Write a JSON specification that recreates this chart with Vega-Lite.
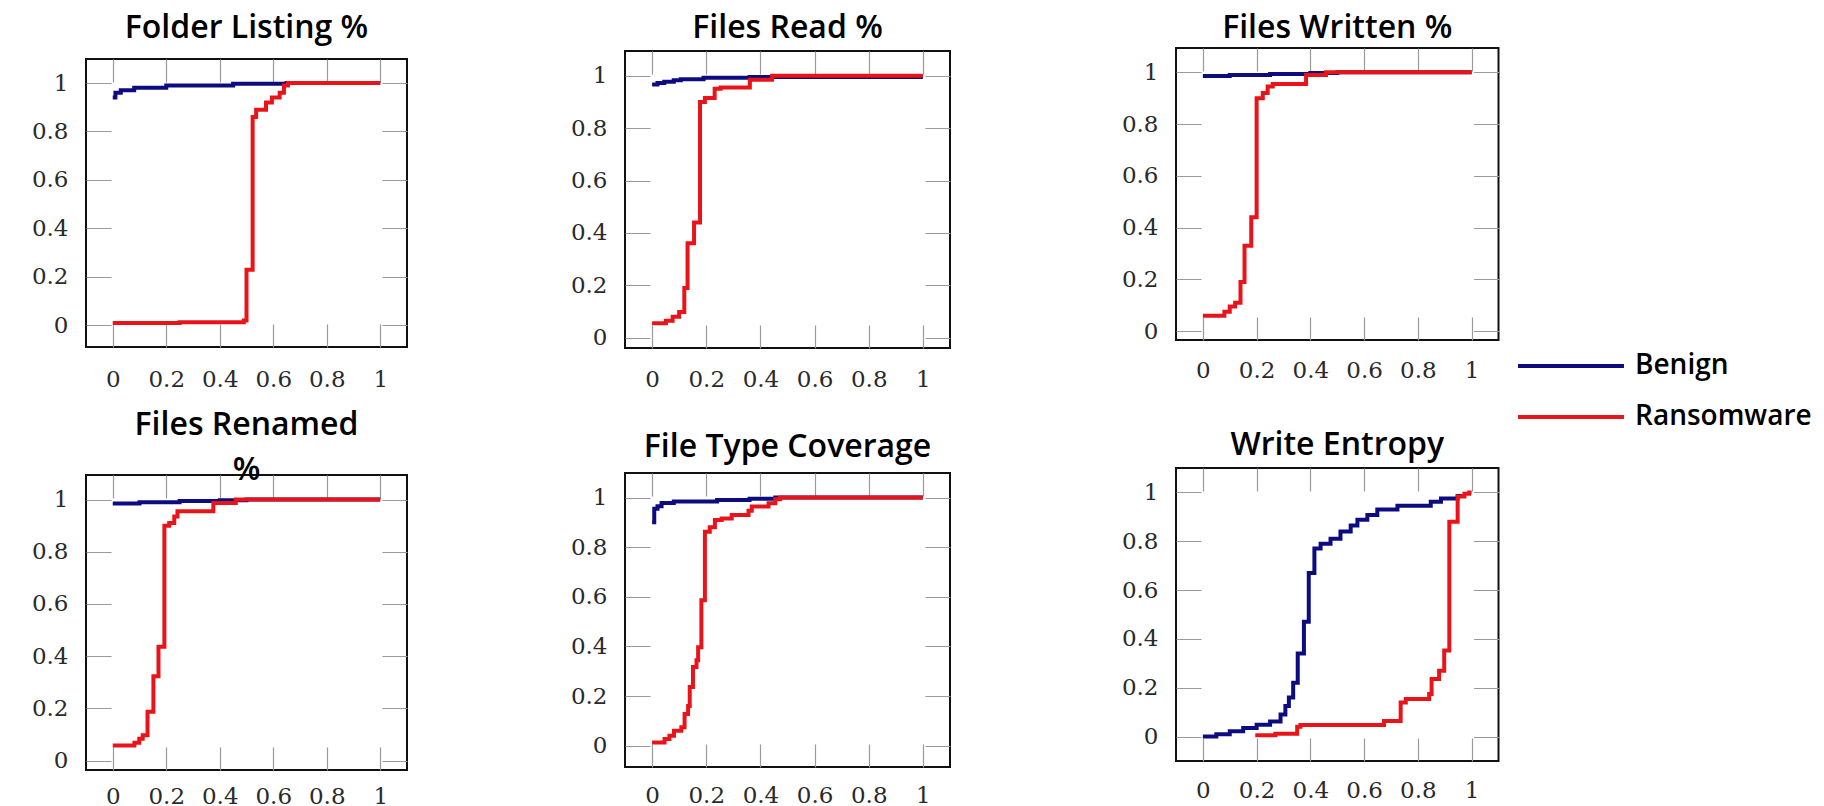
{
  "$schema": "https://vega.github.io/schema/vega-lite/v6.json",
  "background": "white",
  "padding": {"left": 7, "top": 0, "right": 0, "bottom": 0},
  "datasets": {
    "cdf": [
      {"panel": "p1", "series": "Benign", "x": 0, "y": 0.94},
      {"panel": "p1", "series": "Benign", "x": 0.01, "y": 0.96},
      {"panel": "p1", "series": "Benign", "x": 0.03, "y": 0.97},
      {"panel": "p1", "series": "Benign", "x": 0.08, "y": 0.98},
      {"panel": "p1", "series": "Benign", "x": 0.2, "y": 0.99},
      {"panel": "p1", "series": "Benign", "x": 0.45, "y": 0.997},
      {"panel": "p1", "series": "Benign", "x": 0.65, "y": 1},
      {"panel": "p1", "series": "Benign", "x": 1, "y": 1},
      {"panel": "p1", "series": "Ransomware", "x": 0, "y": 0.01},
      {"panel": "p1", "series": "Ransomware", "x": 0.25, "y": 0.013},
      {"panel": "p1", "series": "Ransomware", "x": 0.49, "y": 0.02},
      {"panel": "p1", "series": "Ransomware", "x": 0.5, "y": 0.23},
      {"panel": "p1", "series": "Ransomware", "x": 0.523, "y": 0.86},
      {"panel": "p1", "series": "Ransomware", "x": 0.536, "y": 0.89},
      {"panel": "p1", "series": "Ransomware", "x": 0.573, "y": 0.92},
      {"panel": "p1", "series": "Ransomware", "x": 0.595, "y": 0.94},
      {"panel": "p1", "series": "Ransomware", "x": 0.624, "y": 0.96},
      {"panel": "p1", "series": "Ransomware", "x": 0.64, "y": 0.99},
      {"panel": "p1", "series": "Ransomware", "x": 0.655, "y": 1},
      {"panel": "p1", "series": "Ransomware", "x": 1, "y": 1},

      {"panel": "p2", "series": "Benign", "x": 0, "y": 0.967},
      {"panel": "p2", "series": "Benign", "x": 0.02, "y": 0.972},
      {"panel": "p2", "series": "Benign", "x": 0.045, "y": 0.977},
      {"panel": "p2", "series": "Benign", "x": 0.08, "y": 0.983},
      {"panel": "p2", "series": "Benign", "x": 0.106, "y": 0.987},
      {"panel": "p2", "series": "Benign", "x": 0.19, "y": 0.992},
      {"panel": "p2", "series": "Benign", "x": 0.36, "y": 0.995},
      {"panel": "p2", "series": "Benign", "x": 1, "y": 0.995},
      {"panel": "p2", "series": "Ransomware", "x": 0, "y": 0.055},
      {"panel": "p2", "series": "Ransomware", "x": 0.051, "y": 0.065},
      {"panel": "p2", "series": "Ransomware", "x": 0.076, "y": 0.08},
      {"panel": "p2", "series": "Ransomware", "x": 0.1, "y": 0.098},
      {"panel": "p2", "series": "Ransomware", "x": 0.119, "y": 0.19},
      {"panel": "p2", "series": "Ransomware", "x": 0.131, "y": 0.36},
      {"panel": "p2", "series": "Ransomware", "x": 0.155, "y": 0.44},
      {"panel": "p2", "series": "Ransomware", "x": 0.177, "y": 0.9},
      {"panel": "p2", "series": "Ransomware", "x": 0.195, "y": 0.915},
      {"panel": "p2", "series": "Ransomware", "x": 0.231, "y": 0.95},
      {"panel": "p2", "series": "Ransomware", "x": 0.253, "y": 0.955},
      {"panel": "p2", "series": "Ransomware", "x": 0.361, "y": 0.985},
      {"panel": "p2", "series": "Ransomware", "x": 0.443, "y": 1},
      {"panel": "p2", "series": "Ransomware", "x": 1, "y": 1},

      {"panel": "p3", "series": "Benign", "x": 0, "y": 0.986},
      {"panel": "p3", "series": "Benign", "x": 0.1, "y": 0.99},
      {"panel": "p3", "series": "Benign", "x": 0.25, "y": 0.994},
      {"panel": "p3", "series": "Benign", "x": 0.4, "y": 0.997},
      {"panel": "p3", "series": "Benign", "x": 0.5, "y": 1},
      {"panel": "p3", "series": "Benign", "x": 1, "y": 1},
      {"panel": "p3", "series": "Ransomware", "x": 0, "y": 0.06},
      {"panel": "p3", "series": "Ransomware", "x": 0.08, "y": 0.075},
      {"panel": "p3", "series": "Ransomware", "x": 0.1, "y": 0.095},
      {"panel": "p3", "series": "Ransomware", "x": 0.12, "y": 0.11},
      {"panel": "p3", "series": "Ransomware", "x": 0.14, "y": 0.19},
      {"panel": "p3", "series": "Ransomware", "x": 0.155, "y": 0.33},
      {"panel": "p3", "series": "Ransomware", "x": 0.18, "y": 0.44},
      {"panel": "p3", "series": "Ransomware", "x": 0.2, "y": 0.9},
      {"panel": "p3", "series": "Ransomware", "x": 0.223, "y": 0.92},
      {"panel": "p3", "series": "Ransomware", "x": 0.241, "y": 0.945},
      {"panel": "p3", "series": "Ransomware", "x": 0.26, "y": 0.955},
      {"panel": "p3", "series": "Ransomware", "x": 0.384, "y": 0.99},
      {"panel": "p3", "series": "Ransomware", "x": 0.458, "y": 1},
      {"panel": "p3", "series": "Ransomware", "x": 1, "y": 1},

      {"panel": "p4", "series": "Benign", "x": 0, "y": 0.985},
      {"panel": "p4", "series": "Benign", "x": 0.1, "y": 0.99},
      {"panel": "p4", "series": "Benign", "x": 0.25, "y": 0.994},
      {"panel": "p4", "series": "Benign", "x": 0.4, "y": 0.997},
      {"panel": "p4", "series": "Benign", "x": 0.5, "y": 1},
      {"panel": "p4", "series": "Benign", "x": 1, "y": 1},
      {"panel": "p4", "series": "Ransomware", "x": 0, "y": 0.058},
      {"panel": "p4", "series": "Ransomware", "x": 0.081, "y": 0.068},
      {"panel": "p4", "series": "Ransomware", "x": 0.099, "y": 0.084},
      {"panel": "p4", "series": "Ransomware", "x": 0.112, "y": 0.097},
      {"panel": "p4", "series": "Ransomware", "x": 0.13, "y": 0.187},
      {"panel": "p4", "series": "Ransomware", "x": 0.152, "y": 0.323},
      {"panel": "p4", "series": "Ransomware", "x": 0.171, "y": 0.436},
      {"panel": "p4", "series": "Ransomware", "x": 0.193, "y": 0.9},
      {"panel": "p4", "series": "Ransomware", "x": 0.211, "y": 0.91},
      {"panel": "p4", "series": "Ransomware", "x": 0.23, "y": 0.935},
      {"panel": "p4", "series": "Ransomware", "x": 0.242, "y": 0.955},
      {"panel": "p4", "series": "Ransomware", "x": 0.376, "y": 0.987},
      {"panel": "p4", "series": "Ransomware", "x": 0.46, "y": 1},
      {"panel": "p4", "series": "Ransomware", "x": 1, "y": 1},

      {"panel": "p5", "series": "Benign", "x": 0, "y": 0.9},
      {"panel": "p5", "series": "Benign", "x": 0.008, "y": 0.955},
      {"panel": "p5", "series": "Benign", "x": 0.02, "y": 0.965},
      {"panel": "p5", "series": "Benign", "x": 0.035, "y": 0.978},
      {"panel": "p5", "series": "Benign", "x": 0.08, "y": 0.984},
      {"panel": "p5", "series": "Benign", "x": 0.24, "y": 0.99},
      {"panel": "p5", "series": "Benign", "x": 0.36, "y": 0.995},
      {"panel": "p5", "series": "Benign", "x": 0.455, "y": 1},
      {"panel": "p5", "series": "Benign", "x": 1, "y": 1},
      {"panel": "p5", "series": "Ransomware", "x": 0, "y": 0.013},
      {"panel": "p5", "series": "Ransomware", "x": 0.046, "y": 0.027},
      {"panel": "p5", "series": "Ransomware", "x": 0.064, "y": 0.04},
      {"panel": "p5", "series": "Ransomware", "x": 0.081, "y": 0.06},
      {"panel": "p5", "series": "Ransomware", "x": 0.108, "y": 0.074},
      {"panel": "p5", "series": "Ransomware", "x": 0.12, "y": 0.128},
      {"panel": "p5", "series": "Ransomware", "x": 0.133, "y": 0.16},
      {"panel": "p5", "series": "Ransomware", "x": 0.139, "y": 0.236},
      {"panel": "p5", "series": "Ransomware", "x": 0.151, "y": 0.317},
      {"panel": "p5", "series": "Ransomware", "x": 0.164, "y": 0.344},
      {"panel": "p5", "series": "Ransomware", "x": 0.17, "y": 0.397},
      {"panel": "p5", "series": "Ransomware", "x": 0.182, "y": 0.586},
      {"panel": "p5", "series": "Ransomware", "x": 0.195, "y": 0.862},
      {"panel": "p5", "series": "Ransomware", "x": 0.213, "y": 0.88},
      {"panel": "p5", "series": "Ransomware", "x": 0.232, "y": 0.91},
      {"panel": "p5", "series": "Ransomware", "x": 0.257, "y": 0.916},
      {"panel": "p5", "series": "Ransomware", "x": 0.294, "y": 0.93},
      {"panel": "p5", "series": "Ransomware", "x": 0.356, "y": 0.947},
      {"panel": "p5", "series": "Ransomware", "x": 0.368, "y": 0.964},
      {"panel": "p5", "series": "Ransomware", "x": 0.43, "y": 0.977},
      {"panel": "p5", "series": "Ransomware", "x": 0.455, "y": 0.993},
      {"panel": "p5", "series": "Ransomware", "x": 0.473, "y": 1},
      {"panel": "p5", "series": "Ransomware", "x": 1, "y": 1},

      {"panel": "p6", "series": "Benign", "x": 0, "y": 0},
      {"panel": "p6", "series": "Benign", "x": 0.05, "y": 0.01},
      {"panel": "p6", "series": "Benign", "x": 0.1, "y": 0.022},
      {"panel": "p6", "series": "Benign", "x": 0.15, "y": 0.035},
      {"panel": "p6", "series": "Benign", "x": 0.2, "y": 0.048},
      {"panel": "p6", "series": "Benign", "x": 0.25, "y": 0.062},
      {"panel": "p6", "series": "Benign", "x": 0.289, "y": 0.09},
      {"panel": "p6", "series": "Benign", "x": 0.307, "y": 0.125},
      {"panel": "p6", "series": "Benign", "x": 0.32, "y": 0.16},
      {"panel": "p6", "series": "Benign", "x": 0.336, "y": 0.22},
      {"panel": "p6", "series": "Benign", "x": 0.353, "y": 0.34},
      {"panel": "p6", "series": "Benign", "x": 0.376, "y": 0.47},
      {"panel": "p6", "series": "Benign", "x": 0.394, "y": 0.67},
      {"panel": "p6", "series": "Benign", "x": 0.415, "y": 0.77},
      {"panel": "p6", "series": "Benign", "x": 0.438, "y": 0.79},
      {"panel": "p6", "series": "Benign", "x": 0.475, "y": 0.81},
      {"panel": "p6", "series": "Benign", "x": 0.512, "y": 0.84},
      {"panel": "p6", "series": "Benign", "x": 0.55, "y": 0.865},
      {"panel": "p6", "series": "Benign", "x": 0.575, "y": 0.888},
      {"panel": "p6", "series": "Benign", "x": 0.612, "y": 0.908},
      {"panel": "p6", "series": "Benign", "x": 0.649, "y": 0.93},
      {"panel": "p6", "series": "Benign", "x": 0.724, "y": 0.945},
      {"panel": "p6", "series": "Benign", "x": 0.848, "y": 0.962},
      {"panel": "p6", "series": "Benign", "x": 0.886, "y": 0.975},
      {"panel": "p6", "series": "Benign", "x": 0.948, "y": 0.985},
      {"panel": "p6", "series": "Benign", "x": 0.965, "y": 0.985},
      {"panel": "p6", "series": "Ransomware", "x": 0.195, "y": 0.005},
      {"panel": "p6", "series": "Ransomware", "x": 0.27, "y": 0.012},
      {"panel": "p6", "series": "Ransomware", "x": 0.351, "y": 0.04},
      {"panel": "p6", "series": "Ransomware", "x": 0.363, "y": 0.047},
      {"panel": "p6", "series": "Ransomware", "x": 0.674, "y": 0.064},
      {"panel": "p6", "series": "Ransomware", "x": 0.736, "y": 0.14},
      {"panel": "p6", "series": "Ransomware", "x": 0.755, "y": 0.154},
      {"panel": "p6", "series": "Ransomware", "x": 0.842, "y": 0.174},
      {"panel": "p6", "series": "Ransomware", "x": 0.851, "y": 0.236},
      {"panel": "p6", "series": "Ransomware", "x": 0.879, "y": 0.27},
      {"panel": "p6", "series": "Ransomware", "x": 0.898, "y": 0.353},
      {"panel": "p6", "series": "Ransomware", "x": 0.917, "y": 0.88},
      {"panel": "p6", "series": "Ransomware", "x": 0.948, "y": 0.983},
      {"panel": "p6", "series": "Ransomware", "x": 0.973, "y": 0.995},
      {"panel": "p6", "series": "Ransomware", "x": 0.991, "y": 1},
      {"panel": "p6", "series": "Ransomware", "x": 1, "y": 1}
    ]
  },
  "config": {
    "view": {"stroke": "#111111", "strokeWidth": 2},
    "axis": {
      "labelFont": "DejaVu Serif",
      "labelFontSize": 23,
      "labelColor": "#2a2a2a",
      "ticks": false,
      "domain": false,
      "grid": true,
      "gridColor": "#9a9a9a",
      "gridWidth": 1.2,
      "labelFlush": false,
      "labelOverlap": false
    },
    "axisY": {"labelPadding": 18},
    "title": {"font": "Open Sans", "fontSize": 32, "fontWeight": 600, "color": "#000000", "anchor": "middle", "baseline": "top"},
    "line": {"interpolate": "step-after", "strokeWidth": 4},
    "legend": {
      "title": null,
      "orient": "none",
      "legendX": 1471,
      "legendY": 352,
      "padding": 0,
      "symbolType": "M-5,0H5",
      "symbolSize": 449,
      "symbolStrokeWidth": 3.5,
      "labelFont": "Open Sans",
      "labelFontSize": 28,
      "labelFontWeight": 600,
      "labelColor": "#000000",
      "labelOffset": 50,
      "labelLimit": 400,
      "rowPadding": 23
    }
  },
  "spacing": 150,
  "hconcat": [
    {
      "spacing": 8,
      "vconcat": [
        {"width": 10, "height": 1.7, "view": {"stroke": null, "fill": "white"}, "data": {"values": []}, "mark": {"type": "point", "opacity": 0}},
        {
          "width": 321, "height": 288,
          "title": {"text": "Folder Listing %", "offset": 14.3},
          "data": {"name": "cdf"},
          "transform": [{"filter": "datum.panel === 'p1'"}],
          "mark": {"type": "line"},
          "encoding": {
            "x": {"field": "x", "type": "quantitative", "title": null,
                  "scale": {"domain": [-0.1, 1.1], "nice": false, "zero": false},
                  "axis": {"values": [0, 0.2, 0.4, 0.6, 0.8, 1], "format": ".1~f", "gridDash": [23, 242], "labelPadding": 21.6, "minExtent": 50.7, "maxExtent": 50.7}},
            "y": {"field": "y", "type": "quantitative", "title": null,
                  "scale": {"domain": [-0.089, 1.099], "nice": false, "zero": false},
                  "axis": {"values": [0, 0.2, 0.4, 0.6, 0.8, 1], "format": ".1~f", "gridDash": [25, 271], "minExtent": 78, "maxExtent": 78}},
            "color": {"field": "series", "type": "nominal",
                      "scale": {"domain": ["Benign", "Ransomware"], "range": ["#0c0c80", "#e8141a"]}}
          }
        },
        {
          "width": 321, "height": 295,
          "title": {"text": ["Files Renamed", "%"], "offset": -11.7, "lineHeight": 45},
          "data": {"name": "cdf"},
          "transform": [{"filter": "datum.panel === 'p4'"}],
          "mark": {"type": "line"},
          "encoding": {
            "x": {"field": "x", "type": "quantitative", "title": null,
                  "scale": {"domain": [-0.1, 1.1], "nice": false, "zero": false},
                  "axis": {"values": [0, 0.2, 0.4, 0.6, 0.8, 1], "format": ".1~f", "gridDash": [23, 249], "labelPadding": 15, "minExtent": 38, "maxExtent": 38}},
            "y": {"field": "y", "type": "quantitative", "title": null,
                  "scale": {"domain": [-0.036, 1.094], "nice": false, "zero": false},
                  "axis": {"values": [0, 0.2, 0.4, 0.6, 0.8, 1], "format": ".1~f", "gridDash": [25, 271], "minExtent": 78, "maxExtent": 78}},
            "color": {"field": "series", "type": "nominal",
                      "scale": {"domain": ["Benign", "Ransomware"], "range": ["#0c0c80", "#e8141a"]}}
          }
        }
      ]
    },
    {
      "spacing": 8,
      "vconcat": [
        {"width": 10, "height": 1.7, "view": {"stroke": null, "fill": "white"}, "data": {"values": []}, "mark": {"type": "point", "opacity": 0}},
        {
          "width": 325, "height": 297,
          "title": {"text": "Files Read %", "offset": 6.3},
          "data": {"name": "cdf"},
          "transform": [{"filter": "datum.panel === 'p2'"}],
          "mark": {"type": "line"},
          "encoding": {
            "x": {"field": "x", "type": "quantitative", "title": null,
                  "scale": {"domain": [-0.1, 1.1], "nice": false, "zero": false},
                  "axis": {"values": [0, 0.2, 0.4, 0.6, 0.8, 1], "format": ".1~f", "gridDash": [23, 251], "labelPadding": 20.6, "minExtent": 71.7, "maxExtent": 71.7}},
            "y": {"field": "y", "type": "quantitative", "title": null,
                  "scale": {"domain": [-0.0395, 1.0945], "nice": false, "zero": false},
                  "axis": {"values": [0, 0.2, 0.4, 0.6, 0.8, 1], "format": ".1~f", "gridDash": [25, 275], "minExtent": 65.5, "maxExtent": 65.5}},
            "color": {"field": "series", "type": "nominal",
                      "scale": {"domain": ["Benign", "Ransomware"], "range": ["#0c0c80", "#e8141a"]}}
          }
        },
        {
          "width": 325, "height": 294,
          "title": {"text": "File Type Coverage", "offset": 9.3},
          "data": {"name": "cdf"},
          "transform": [{"filter": "datum.panel === 'p5'"}],
          "mark": {"type": "line"},
          "encoding": {
            "x": {"field": "x", "type": "quantitative", "title": null,
                  "scale": {"domain": [-0.1, 1.1], "nice": false, "zero": false},
                  "axis": {"values": [0, 0.2, 0.4, 0.6, 0.8, 1], "format": ".1~f", "gridDash": [23, 248], "labelPadding": 17, "minExtent": 38, "maxExtent": 38}},
            "y": {"field": "y", "type": "quantitative", "title": null,
                  "scale": {"domain": [-0.086, 1.099], "nice": false, "zero": false},
                  "axis": {"values": [0, 0.2, 0.4, 0.6, 0.8, 1], "format": ".1~f", "gridDash": [25, 275], "minExtent": 65.5, "maxExtent": 65.5}},
            "color": {"field": "series", "type": "nominal",
                      "scale": {"domain": ["Benign", "Ransomware"], "range": ["#0c0c80", "#e8141a"]}}
          }
        }
      ]
    },
    {
      "spacing": 8,
      "vconcat": [
        {"width": 10, "height": 1.7, "view": {"stroke": null, "fill": "white"}, "data": {"values": []}, "mark": {"type": "point", "opacity": 0}},
        {
          "width": 322.5, "height": 292,
          "title": {"text": "Files Written %", "offset": 3.3},
          "data": {"name": "cdf"},
          "transform": [{"filter": "datum.panel === 'p3'"}],
          "mark": {"type": "line"},
          "encoding": {
            "x": {"field": "x", "type": "quantitative", "title": null,
                  "scale": {"domain": [-0.1, 1.1], "nice": false, "zero": false},
                  "axis": {"values": [0, 0.2, 0.4, 0.6, 0.8, 1], "format": ".1~f", "gridDash": [23, 246], "labelPadding": 19.6, "minExtent": 77.7, "maxExtent": 77.7}},
            "y": {"field": "y", "type": "quantitative", "title": null,
                  "scale": {"domain": [-0.034, 1.094], "nice": false, "zero": false},
                  "axis": {"values": [0, 0.2, 0.4, 0.6, 0.8, 1], "format": ".1~f", "gridDash": [25, 272.5], "minExtent": 73.5, "maxExtent": 73.5}},
            "color": {"field": "series", "type": "nominal",
                      "scale": {"domain": ["Benign", "Ransomware"], "range": ["#0c0c80", "#e8141a"]}}
          }
        },
        {
          "width": 322.5, "height": 293,
          "title": {"text": "Write Entropy", "offset": 6.3},
          "data": {"name": "cdf"},
          "transform": [{"filter": "datum.panel === 'p6'"}],
          "mark": {"type": "line"},
          "encoding": {
            "x": {"field": "x", "type": "quantitative", "title": null,
                  "scale": {"domain": [-0.1, 1.1], "nice": false, "zero": false},
                  "axis": {"values": [0, 0.2, 0.4, 0.6, 0.8, 1], "format": ".1~f", "gridDash": [23, 247], "labelPadding": 18.6, "minExtent": 38, "maxExtent": 38}},
            "y": {"field": "y", "type": "quantitative", "title": null,
                  "scale": {"domain": [-0.1, 1.1], "nice": false, "zero": false},
                  "axis": {"values": [0, 0.2, 0.4, 0.6, 0.8, 1], "format": ".1~f", "gridDash": [25, 272.5], "minExtent": 73.5, "maxExtent": 73.5}},
            "color": {"field": "series", "type": "nominal",
                      "scale": {"domain": ["Benign", "Ransomware"], "range": ["#0c0c80", "#e8141a"]}}
          }
        }
      ]
    }
  ]
}
